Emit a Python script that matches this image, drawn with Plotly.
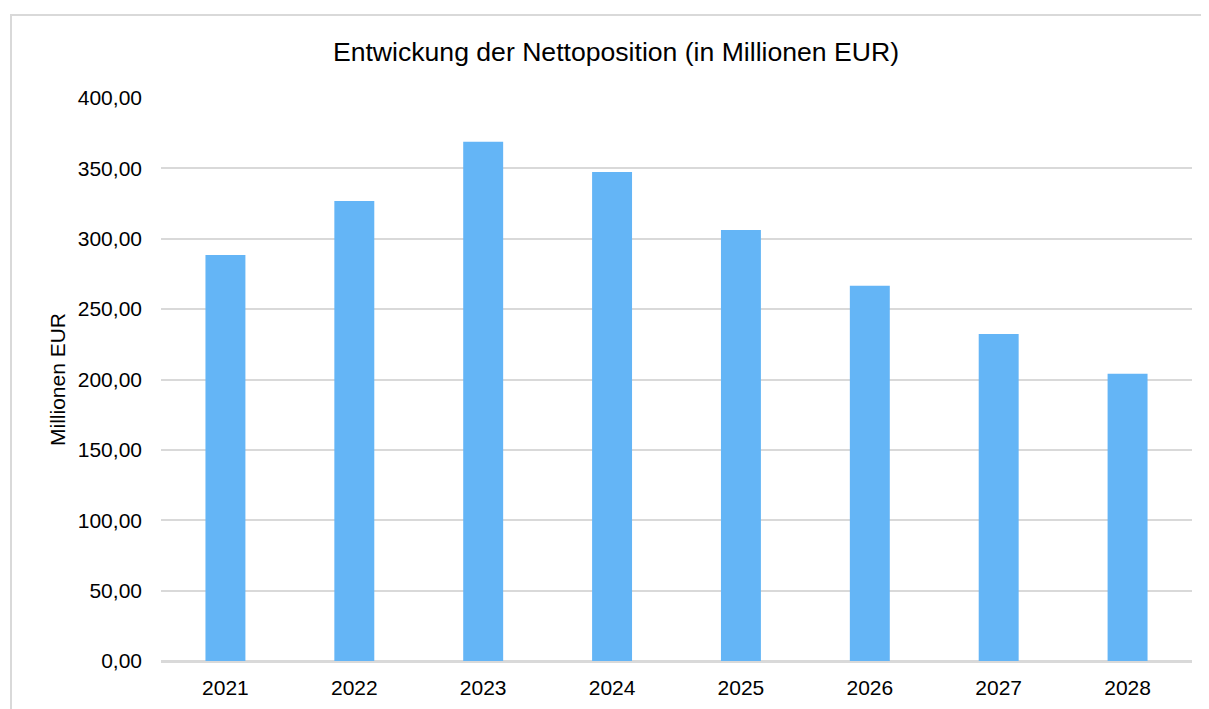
import plotly.graph_objects as go

# data
years = ["2021", "2022", "2023", "2024", "2025", "2026", "2027", "2028"]
net_position = [288.5, 326.8, 369.0, 347.4, 306.2, 266.6, 232.4, 204.0]
y_ticks = [0, 50, 100, 150, 200, 250, 300, 350, 400]

BAR_COLOR = "#64b5f6"
GRID = "#d9d9d9"
FONT = "Liberation Sans, Arial, sans-serif"

# page body adds an 8px offset, so the figure is 8px smaller than the window
W, H = 1201, 701

fig = go.Figure(
    go.Bar(x=years, y=net_position, marker=dict(color=BAR_COLOR, line=dict(width=0)),
           hoverinfo="x+y")
)

fig.update_layout(
    width=W, height=H,
    margin=dict(l=153, r=17, t=90, b=48),
    paper_bgcolor="white", plot_bgcolor="white",
    font=dict(family=FONT, size=21, color="#000000"),
    separators=",.",
    bargap=0.69,
    showlegend=False,
    title=dict(text="Entwickung der Nettoposition (in Millionen EUR)",
               x=608 / W, xref="container", xanchor="center",
               y=1 - 44 / H, yref="container", yanchor="middle",
               font=dict(family=FONT, size=26.6, color="#000000")),
    # outer chart frame (runs off the right and bottom edges)
    shapes=[dict(type="rect", xref="paper", yref="paper",
                 x0=(3 - 153) / 1031, x1=(1240 - 153) / 1031,
                 y0=(653 - 740) / 563, y1=(653 - 7) / 563,
                 line=dict(color=GRID, width=2), fillcolor="rgba(0,0,0,0)",
                 layer="below")],
)

fig.update_xaxes(showgrid=False, showline=False, ticks="", automargin=False,
                 tickfont=dict(size=21), ticklabelstandoff=12)
fig.update_yaxes(range=[0, 400], tickvals=y_ticks, tickformat=".2f",
                 showgrid=True, gridcolor=GRID, gridwidth=2,
                 zeroline=True, zerolinecolor=GRID, zerolinewidth=3,
                 showline=False, ticks="", ticklabelstandoff=18, automargin=False,
                 tickfont=dict(size=21),
                 title=dict(text="Millionen EUR", font=dict(size=21), standoff=6))

fig.write_html("out.html")
